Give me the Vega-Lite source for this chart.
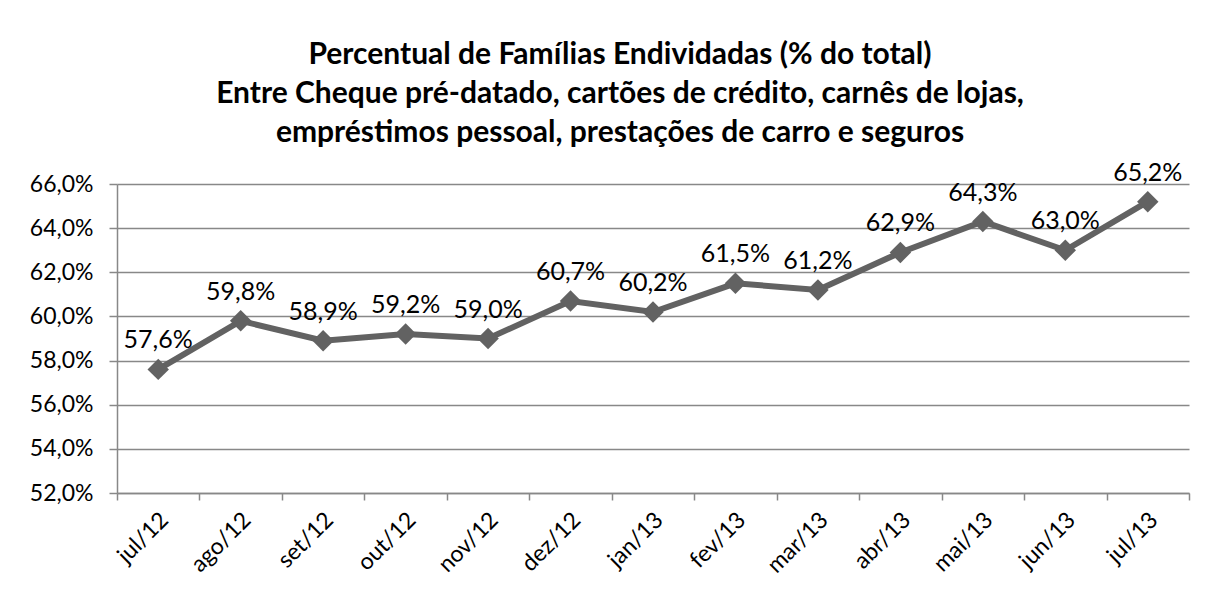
{
  "$schema": "https://vega.github.io/schema/vega-lite/v6.json",
  "autosize": "none",
  "width": 1072,
  "height": 309,
  "padding": {"left": 117, "top": 184, "right": 17, "bottom": 108},
  "background": "white",
  "title": {
    "text": ["Percentual de Famílias Endividadas (% do total)", "Entre Cheque pré-datado, cartões de crédito, carnês de lojas,", "empréstimos pessoal, prestações de carro e seguros"],
    "font": "Lato",
    "fontSize": 30,
    "fontWeight": "bold",
    "color": "#000000",
    "lineHeight": 39,
    "anchor": "middle",
    "dx": -33,
    "offset": 13
  },
  "data": {
    "values": [
      {"mes": "jul/12", "valor": 0.576},
      {"mes": "ago/12", "valor": 0.598},
      {"mes": "set/12", "valor": 0.589},
      {"mes": "out/12", "valor": 0.592},
      {"mes": "nov/12", "valor": 0.590},
      {"mes": "dez/12", "valor": 0.607},
      {"mes": "jan/13", "valor": 0.602},
      {"mes": "fev/13", "valor": 0.615},
      {"mes": "mar/13", "valor": 0.612},
      {"mes": "abr/13", "valor": 0.629},
      {"mes": "mai/13", "valor": 0.643},
      {"mes": "jun/13", "valor": 0.630},
      {"mes": "jul/13", "valor": 0.652}
    ]
  },
  "encoding": {
    "x": {
      "field": "mes",
      "type": "nominal",
      "sort": null,
      "scale": {"paddingInner": 0, "paddingOuter": 0},
      "axis": {
        "title": null,
        "labelAngle": -45,
        "labelAlign": "right",
        "labelBaseline": "middle",
        "labelFont": "Lato",
        "labelFontSize": 23,
        "labelColor": "#000000",
        "labelPadding": 16,
        "labelOffset": 6,
        "tickBand": "extent",
        "tickSize": 7,
        "tickColor": "#888888",
        "tickWidth": 1.5,
        "domainColor": "#888888",
        "domainWidth": 1.5,
        "grid": false
      }
    },
    "y": {
      "field": "valor",
      "type": "quantitative",
      "scale": {"domain": [0.52, 0.66], "nice": false, "zero": false},
      "axis": {
        "title": null,
        "values": [0.52, 0.54, 0.56, 0.58, 0.60, 0.62, 0.64, 0.66],
        "format": ".1%",
        "labelFont": "Lato",
        "labelFontSize": 23,
        "labelColor": "#000000",
        "labelPadding": 16,
        "tickSize": 8,
        "tickColor": "#888888",
        "tickWidth": 1.5,
        "domainColor": "#888888",
        "domainWidth": 1.5,
        "grid": true,
        "gridColor": "#888888",
        "gridWidth": 1.5
      }
    }
  },
  "layer": [
    {
      "mark": {"type": "line", "color": "#626262", "strokeWidth": 6}
    },
    {
      "mark": {"type": "point", "shape": "diamond", "filled": true, "size": 460, "color": "#626262", "opacity": 1}
    },
    {
      "mark": {"type": "text", "font": "Lato", "fontSize": 25, "color": "#000000", "baseline": "bottom", "dy": -16},
      "encoding": {"text": {"field": "valor", "type": "quantitative", "format": ".1%"}}
    }
  ],
  "config": {
    "view": {"stroke": null},
    "locale": {"number": {"decimal": ",", "thousands": ".", "grouping": [3], "currency": ["R$", ""]}}
  }
}
